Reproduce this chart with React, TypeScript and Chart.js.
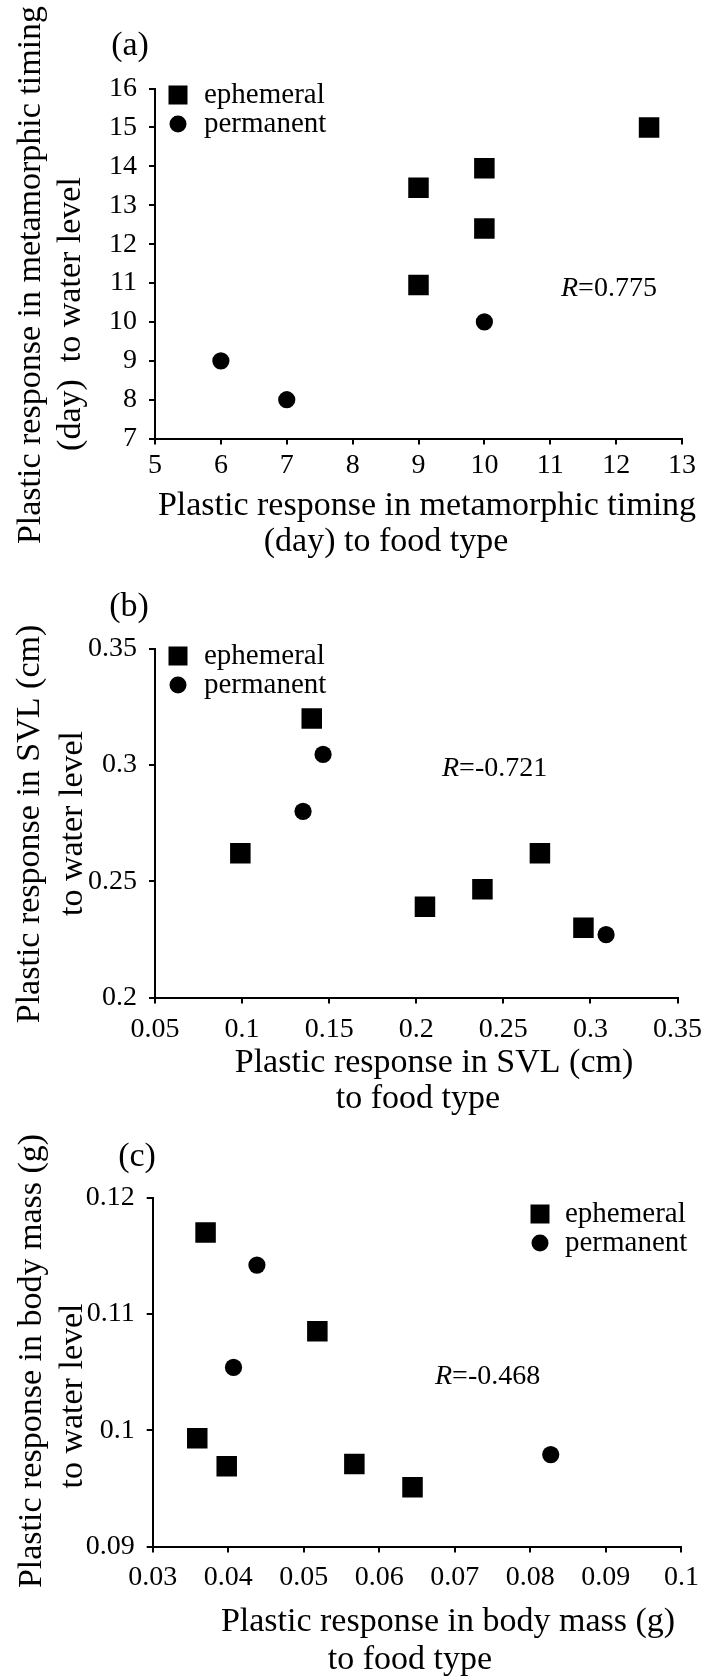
import React, { useEffect, useRef } from "react";
import { Chart, registerables } from "chart.js";

Chart.register(...registerables);

const FONT = "'Liberation Serif', 'Times New Roman', Times, serif";

// ---------- Panel (a): metamorphic timing (day) ----------
const aEphX = [9, 9, 10, 10, 12.5];
const aEphY = [13.45, 10.95, 13.95, 12.4, 15];
const aPermX = [6, 7, 10];
const aPermY = [9, 8, 10];
const aXTicks = [5, 6, 7, 8, 9, 10, 11, 12, 13];
const aXLabels = ["5", "6", "7", "8", "9", "10", "11", "12", "13"];
const aYTicks = [7, 8, 9, 10, 11, 12, 13, 14, 15, 16];
const aYLabels = ["7", "8", "9", "10", "11", "12", "13", "14", "15", "16"];

// ---------- Panel (b): SVL (cm) ----------
const bEphX = [0.14, 0.099, 0.205, 0.238, 0.271, 0.296];
const bEphY = [0.32, 0.262, 0.239, 0.2465, 0.262, 0.23];
const bPermX = [0.1465, 0.135, 0.309];
const bPermY = [0.3045, 0.28, 0.227];
const bXTicks = [0.05, 0.1, 0.15, 0.2, 0.25, 0.3, 0.35];
const bXLabels = ["0.05", "0.1", "0.15", "0.2", "0.25", "0.3", "0.35"];
const bYTicks = [0.2, 0.25, 0.3, 0.35];
const bYLabels = ["0.2", "0.25", "0.3", "0.35"];

// ---------- Panel (c): body mass (g) ----------
const cEphX = [0.037, 0.0518, 0.0359, 0.0398, 0.0567, 0.0644];
const cEphY = [0.117, 0.1085, 0.0993, 0.0969, 0.0971, 0.0951];
const cPermX = [0.0438, 0.0407, 0.0827];
const cPermY = [0.1142, 0.1054, 0.0979];
const cXTicks = [0.03, 0.04, 0.05, 0.06, 0.07, 0.08, 0.09, 0.1];
const cXLabels = ["0.03", "0.04", "0.05", "0.06", "0.07", "0.08", "0.09", "0.1"];
const cYTicks = [0.09, 0.1, 0.11, 0.12];
const cYLabels = ["0.09", "0.1", "0.11", "0.12"];

const seriesNames = ["ephemeral", "permanent"];

const zip = (xs: number[], ys: number[]) => xs.map((x, i) => ({ x, y: ys[i] }));

type PanelSpec = {
  top: number;
  height: number;
  padding: { left: number; top: number; right: number; bottom: number };
  yWidth: number;
  xPad: number;
  eph: { x: number; y: number }[];
  perm: { x: number; y: number }[];
  xTicks: number[];
  xLabels: string[];
  yTicks: number[];
  yLabels: string[];
  tag: string;
  tagPos: [number, number];
  legendX: number;
  legendTextX: number;
  legendY: [number, number];
  rText: string;
  rPos: [number, number];
  yTitle: [string, number, number][];
  xTitle: [string, number, number][];
};

const panels: PanelSpec[] = [
  {
    top: 0,
    height: 560,
    padding: { left: 0, top: 88.6, right: 29, bottom: 61.4 },
    yWidth: 155,
    xPad: 4,
    eph: zip(aEphX, aEphY),
    perm: zip(aPermX, aPermY),
    xTicks: aXTicks,
    xLabels: aXLabels,
    yTicks: aYTicks,
    yLabels: aYLabels,
    tag: "(a)",
    tagPos: [130, 46],
    legendX: 178,
    legendTextX: 204,
    legendY: [95, 124],
    rText: "=0.775",
    rPos: [561, 289],
    yTitle: [
      ["Plastic response in metamorphic timing", 31, 275],
      ["(day)  to water level", 71, 314],
    ],
    xTitle: [
      ["Plastic response in metamorphic timing", 427, 506],
      ["(day) to food type", 386, 542],
    ],
  },
  {
    top: 560,
    height: 560,
    padding: { left: 0, top: 88.6, right: 29, bottom: 62.5 },
    yWidth: 155,
    xPad: 9,
    eph: zip(bEphX, bEphY),
    perm: zip(bPermX, bPermY),
    xTicks: bXTicks,
    xLabels: bXLabels,
    yTicks: bYTicks,
    yLabels: bYLabels,
    tag: "(b)",
    tagPos: [129, 47],
    legendX: 178,
    legendTextX: 204,
    legendY: [96, 125],
    rText: "=-0.721",
    rPos: [442, 209],
    yTitle: [
      ["Plastic response in SVL (cm)", 30, 264],
      ["to water level", 73, 263.5],
    ],
    xTitle: [
      ["Plastic response in SVL (cm)", 434, 503],
      ["to food type", 418, 539],
    ],
  },
  {
    top: 1120,
    height: 558,
    padding: { left: 0, top: 77.6, right: 29.6, bottom: 71.5 },
    yWidth: 152.7,
    xPad: 8,
    eph: zip(cEphX, cEphY),
    perm: zip(cPermX, cPermY),
    xTicks: cXTicks,
    xLabels: cXLabels,
    yTicks: cYTicks,
    yLabels: cYLabels,
    tag: "(c)",
    tagPos: [137, 37],
    legendX: 540,
    legendTextX: 565,
    legendY: [94, 123],
    rText: "=-0.468",
    rPos: [435, 257],
    yTitle: [
      ["Plastic response in body mass (g)", 32, 241],
      ["to water level", 73, 276],
    ],
    xTitle: [
      ["Plastic response in body mass (g)", 448, 502],
      ["to food type", 410, 540],
    ],
  },
];

function Panel({ spec }: { spec: PanelSpec }) {
  const ref = useRef<HTMLCanvasElement | null>(null);

  useEffect(() => {
    if (!ref.current) return;

    const textPlugin = {
      id: "panelText",
      afterDraw(chart: any) {
        const ctx = chart.ctx;
        ctx.save();
        ctx.fillStyle = "#000";
        ctx.textBaseline = "middle";

        // panel tag
        ctx.font = `34px ${FONT}`;
        ctx.textAlign = "center";
        ctx.fillText(spec.tag, spec.tagPos[0], spec.tagPos[1]);

        // legend
        ctx.font = `29px ${FONT}`;
        ctx.textAlign = "left";
        const [ly1, ly2] = spec.legendY;
        ctx.fillRect(spec.legendX - 9.5, ly1 - 9.5, 19, 19);
        ctx.fillText(seriesNames[0], spec.legendTextX, ly1);
        ctx.beginPath();
        ctx.arc(spec.legendX, ly2, 8.5, 0, Math.PI * 2);
        ctx.fill();
        ctx.fillText(seriesNames[1], spec.legendTextX, ly2);

        // R annotation
        ctx.font = `italic 28px ${FONT}`;
        ctx.fillText("R", spec.rPos[0], spec.rPos[1]);
        const rw = ctx.measureText("R").width;
        ctx.font = `28px ${FONT}`;
        ctx.fillText(spec.rText, spec.rPos[0] + rw, spec.rPos[1]);

        // axis titles
        ctx.font = `34px ${FONT}`;
        ctx.textAlign = "center";
        spec.xTitle.forEach(([t, x, y]) => ctx.fillText(t, x, y));
        spec.yTitle.forEach(([t, x, y]) => {
          ctx.save();
          ctx.translate(x, y);
          ctx.rotate(-Math.PI / 2);
          ctx.fillText(t, 0, 0);
          ctx.restore();
        });
        ctx.restore();
      },
    };

    const xT = spec.xTicks;
    const yT = spec.yTicks;

    const chart = new Chart(ref.current, {
      type: "scatter",
      data: {
        datasets: [
          {
            label: seriesNames[0],
            data: spec.eph,
            pointStyle: "rect",
            pointRadius: 14.5,
            pointHoverRadius: 14.5,
            backgroundColor: "#000",
            borderColor: "#000",
            borderWidth: 0,
          },
          {
            label: seriesNames[1],
            data: spec.perm,
            pointStyle: "circle",
            pointRadius: 8.6,
            pointHoverRadius: 8.6,
            backgroundColor: "#000",
            borderColor: "#000",
            borderWidth: 0,
          },
        ],
      },
      options: {
        animation: false,
        responsive: false,
        devicePixelRatio: 1,
        events: [],
        layout: { padding: spec.padding },
        plugins: {
          legend: { display: false },
          tooltip: { enabled: false },
        },
        scales: {
          x: {
            type: "linear",
            min: xT[0],
            max: xT[xT.length - 1],
            afterBuildTicks: (scale: any) => {
              scale.ticks = xT.map((v) => ({ value: v }));
            },
            afterFit: (scale: any) => {
              scale.height = 60;
            },
            ticks: {
              autoSkip: false,
              maxRotation: 0,
              minRotation: 0,
              padding: spec.xPad,
              color: "#000",
              font: { family: FONT, size: 28 },
              callback: (_v: any, i: number) => spec.xLabels[i],
            },
            grid: {
              display: true,
              drawOnChartArea: false,
              drawTicks: true,
              tickLength: 6,
              color: "#000",
              lineWidth: 2,
            },
            border: { display: true, color: "#000", width: 2 },
          },
          y: {
            type: "linear",
            min: yT[0],
            max: yT[yT.length - 1],
            afterBuildTicks: (scale: any) => {
              scale.ticks = yT.map((v) => ({ value: v }));
            },
            afterFit: (scale: any) => {
              scale.width = spec.yWidth;
            },
            ticks: {
              autoSkip: false,
              padding: 12,
              color: "#000",
              font: { family: FONT, size: 28 },
              callback: (_v: any, i: number) => spec.yLabels[i],
            },
            grid: {
              display: true,
              drawOnChartArea: false,
              drawTicks: true,
              tickLength: 6,
              color: "#000",
              lineWidth: 2,
            },
            border: { display: true, color: "#000", width: 2 },
          },
        },
      },
      plugins: [textPlugin],
    } as any);

    return () => chart.destroy();
  }, [spec]);

  return (
    <div
      style={{
        position: "absolute",
        left: 0,
        top: spec.top,
        width: 711,
        height: spec.height,
      }}
    >
      <canvas
        ref={ref}
        width={711}
        height={spec.height}
        style={{ width: 711, height: spec.height, display: "block" }}
      />
    </div>
  );
}

export default function App() {
  return (
    <div
      style={{
        position: "absolute",
        left: 0,
        top: 0,
        width: 711,
        height: 1678,
        background: "#fff",
        overflow: "hidden",
      }}
    >
      {panels.map((p) => (
        <Panel key={p.tag} spec={p} />
      ))}
    </div>
  );
}
